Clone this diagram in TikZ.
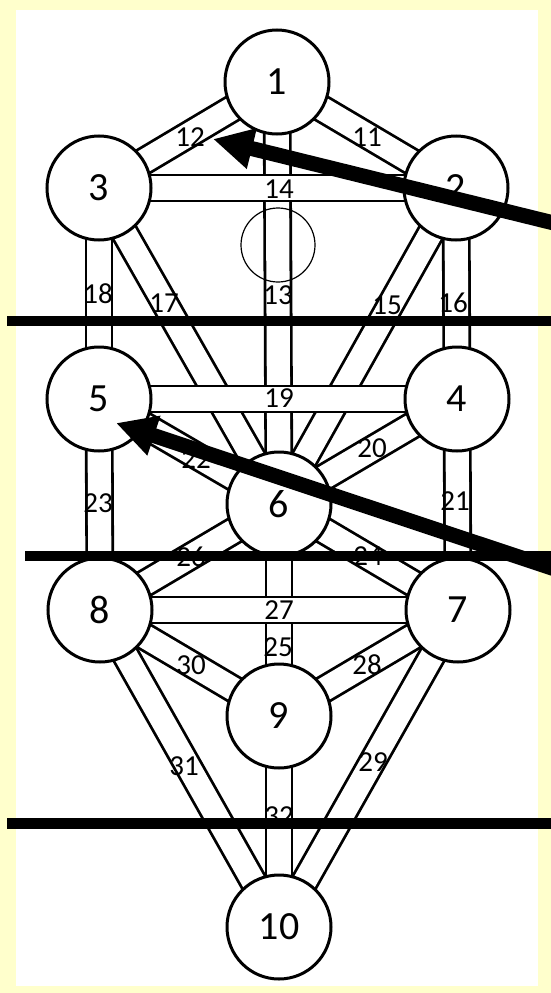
\documentclass[tikz,border=0pt]{standalone}
\usepackage{fontspec}
\setmainfont{Carlito}
\usetikzlibrary{arrows.meta}
\pgfdeclarelayer{back}
\pgfdeclarelayer{bg}
\pgfsetlayers{back,bg,main}
\definecolor{paleyellow}{HTML}{FFFFCC}
\begin{document}
\begin{tikzpicture}[x=1pt,y=-1pt,
  sefira/.style={circle, draw, line width=3pt, fill=white, minimum size=104pt, inner sep=0pt, font=\fontsize{40}{40}\selectfont},
  channel/.style={draw, line width=2.8pt, double=white, double distance=23.2pt},
  plabel/.style={font=\fontsize{29}{29}\selectfont, inner sep=0pt},
  bar/.style={line width=10.5pt},
  bigarrow/.style={line width=15pt, -{Triangle[length=40pt,width=39pt]}}
]
\useasboundingbox (0,0) rectangle (551,993);
\clip (0,0) rectangle (551,993);
\begin{pgfonlayer}{back}
\fill[paleyellow] (0,0) rectangle (551,993);
\fill[white] (15.5,10) rectangle (538,986);
\end{pgfonlayer}

% sefirot
\node[sefira] (s1) at (277,82) {1};
\node[sefira] (s2) at (456,188) {2};
\node[sefira] (s3) at (99,188) {3};
\node[sefira] (s4) at (457,399) {4};
\node[sefira] (s5) at (99,399) {5};
\node[sefira] (s6) at (279,504) {6};
\node[sefira] (s7) at (458,610) {7};
\node[sefira] (s8) at (100,610) {8};
\node[sefira] (s9) at (279,716) {9};
\node[sefira] (s10) at (279,927) {10};
\node[circle, draw, line width=1.2pt, minimum size=74pt, inner sep=0pt] (daath) at (278,245) {};

% paths
\begin{pgfonlayer}{bg}
\draw[channel] (s1.center) -- (s2.center);
\draw[channel] (s1.center) -- (s3.center);
\draw[channel] (s1.center) -- (s6.center);
\draw[channel] (s2.center) -- (s6.center);
\draw[channel] (s2.center) -- (s4.center);
\draw[channel] (s3.center) -- (s6.center);
\draw[channel] (s3.center) -- (s5.center);
\draw[channel] (s4.center) -- (s6.center);
\draw[channel] (s4.center) -- (s7.center);
\draw[channel] (s5.center) -- (s6.center);
\draw[channel] (s5.center) -- (s8.center);
\draw[channel] (s6.center) -- (s7.center);
\draw[channel] (s6.center) -- (s9.center);
\draw[channel] (s6.center) -- (s8.center);
\draw[channel] (s7.center) -- (s9.center);
\draw[channel] (s7.center) -- (s10.center);
\draw[channel] (s8.center) -- (s9.center);
\draw[channel] (s8.center) -- (s10.center);
\draw[channel] (s9.center) -- (s10.center);
\draw[channel] (s2.center) -- (s3.center);
\draw[channel] (s4.center) -- (s5.center);
\draw[channel] (s7.center) -- (s8.center);
\end{pgfonlayer}

% path labels
\node[plabel] (p11) at (367,137) {11};
\node[plabel] (p12) at (190,137) {12};
\node[plabel] (p13) at (278,295) {13};
\node[plabel] (p14) at (279,189) {14};
\node[plabel] (p15) at (387,305) {15};
\node[plabel] (p16) at (453,303) {16};
\node[plabel] (p17) at (164,303) {17};
\node[plabel] (p18) at (98,294) {18};
\node[plabel] (p19) at (279,398) {19};
\node[plabel] (p20) at (372,448) {20};
\node[plabel] (p21) at (455,501) {21};
\node[plabel] (p22) at (196,459) {22};
\node[plabel] (p23) at (98,503) {23};
\node[plabel] (p24) at (368,556) {24};
\node[plabel] (p25) at (278,647) {25};
\node[plabel] (p26) at (191,557) {26};
\node[plabel] (p27) at (279,610) {27};
\node[plabel] (p28) at (367,665) {28};
\node[plabel] (p29) at (373,762) {29};
\node[plabel] (p30) at (191,665) {30};
\node[plabel] (p31) at (184,766) {31};
\node[plabel] (p32) at (279,816) {32};

% horizontal bars
\coordinate (b1l) at (7,321);
\coordinate (b1r) at (560,321);
\coordinate (b2l) at (25,556);
\coordinate (b2r) at (560,556);
\coordinate (b3l) at (7,823.5);
\coordinate (b3r) at (560,823.5);
\draw[bar] (b1l) -- (b1r);
\draw[bar] (b2l) -- (b2r);
\draw[bar] (b3l) -- (b3r);

% arrows
\coordinate (a1s) at (570,227);
\coordinate (a1t) at (213,139);
\coordinate (a2s) at (570,574);
\coordinate (a2t) at (116,423);
\draw[bigarrow] (a1s) -- (a1t);
\draw[bigarrow] (a2s) -- (a2t);
\end{tikzpicture}
\end{document}
